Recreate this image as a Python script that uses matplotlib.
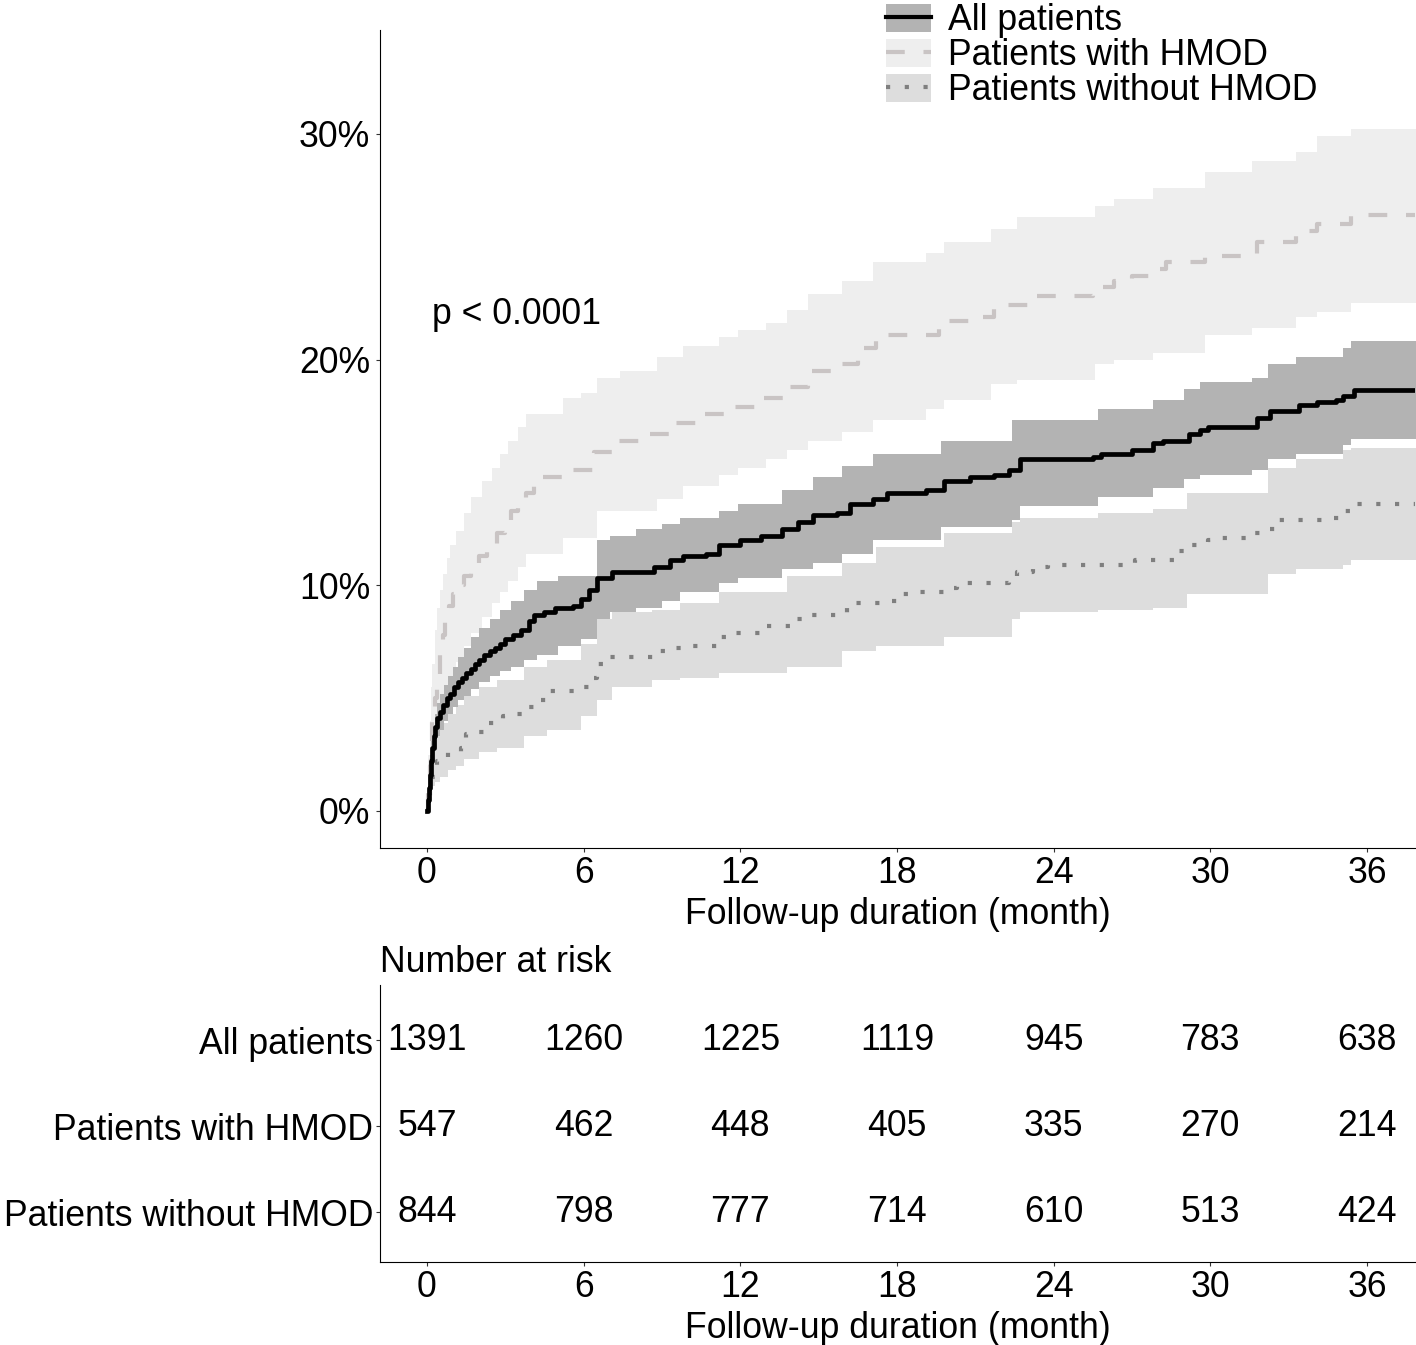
import numpy as np
import matplotlib.pyplot as plt
from matplotlib.patches import Patch
from matplotlib.lines import Line2D

plt.rcParams['font.family'] = ['Liberation Sans', 'DejaVu Sans']

# cumulative incidence (%) step curves
all_t = [0, 0.03, 0.06, 0.1, 0.15, 0.2, 0.25, 0.3, 0.4, 0.5, 0.6, 0.75, 0.9, 1.05, 1.2,
         1.35, 1.5, 1.7, 1.85, 2.0, 2.2, 2.4, 2.6, 2.8, 3.0, 3.3, 3.6, 3.9, 4.1, 4.5, 4.9,
         5.6, 5.9, 6.2, 6.5, 7.1, 8.7, 9.3, 9.8, 10.7, 11.2, 12.0, 12.8, 13.6, 14.2, 14.8,
         15.7, 16.2, 17.1, 17.6, 19.1, 19.8, 20.8, 21.7, 22.3, 22.7, 25.5, 25.8, 27.0, 27.8,
         28.2, 29.2, 29.6, 29.9, 31.8, 32.3, 33.4, 34.1, 34.8, 35.1, 35.5, 38]
all_v = [0, 0.5, 1.0, 1.6, 2.2, 2.8, 3.3, 3.7, 4.1, 4.4, 4.7, 5.0, 5.2, 5.5, 5.7,
         5.9, 6.1, 6.3, 6.5, 6.7, 6.9, 7.1, 7.2, 7.4, 7.6, 7.8, 8.0, 8.4, 8.7, 8.8, 9.0,
         9.1, 9.4, 9.8, 10.3, 10.6, 10.8, 11.1, 11.3, 11.4, 11.8, 12.0, 12.2, 12.5, 12.8, 13.1,
         13.2, 13.6, 13.8, 14.1, 14.2, 14.6, 14.8, 14.9, 15.1, 15.6, 15.7, 15.8, 16.0, 16.3,
         16.4, 16.7, 16.9, 17.0, 17.4, 17.7, 18.0, 18.1, 18.2, 18.4, 18.65, 18.65]

all_band_t = [0, 0.05, 0.1, 0.15, 0.2, 0.3, 0.4, 0.5, 0.65, 0.8, 1.0, 1.2, 1.4, 1.7, 2.0,
              2.4, 2.8, 3.2, 3.7, 4.2, 5.0, 5.9, 6.5, 7.0, 8.0, 9.0, 9.7, 11.2, 11.9, 13.6,
              14.8, 15.9, 17.1, 19.7, 22.4, 22.7, 25.7, 27.8, 29.0, 29.6, 31.6, 32.2, 33.3,
              35.1, 35.4, 38]
all_lo = [0, 0.6, 1.2, 1.7, 2.2, 2.8, 3.3, 3.6, 4.0, 4.3, 4.6, 4.9, 5.1, 5.4, 5.7,
          6.0, 6.2, 6.4, 6.7, 6.9, 7.3, 7.6, 8.5, 8.8, 9.0, 9.3, 9.7, 10.1, 10.3, 10.7,
          11.0, 11.4, 12.0, 12.6, 12.9, 13.5, 13.9, 14.3, 14.7, 14.9, 15.1, 15.6, 15.8,
          16.2, 16.5, 16.5]
all_hi = [0, 1.5, 2.5, 3.2, 3.7, 4.3, 4.8, 5.2, 5.6, 6.0, 6.4, 6.8, 7.2, 7.7, 8.1,
          8.5, 8.9, 9.3, 9.8, 10.2, 10.4, 10.4, 12.0, 12.2, 12.5, 12.7, 13.0, 13.3, 13.6, 14.2,
          14.8, 15.3, 15.8, 16.4, 17.3, 17.3, 17.8, 18.2, 18.7, 19.0, 19.2, 19.8, 20.1,
          20.5, 20.8, 20.8]

hm_t = [0, 0.05, 0.1, 0.15, 0.2, 0.3, 0.4, 0.5, 0.6, 0.7, 0.85, 1.0, 1.2, 1.4, 1.7, 2.0,
        2.3, 2.7, 3.0, 3.2, 3.5, 3.8, 4.1, 4.4, 5.6, 6.4, 7.3, 8.4, 9.3, 10.3, 11.6, 12.8,
        13.8, 14.6, 15.6, 16.5, 17.2, 19.6, 20.8, 21.7, 23.0, 25.5, 26.3, 27.0, 27.8, 28.3,
        29.8, 31.8, 33.3, 34.1, 35.4, 38]
hm_v = [0, 1.0, 2.0, 3.0, 4.0, 5.0, 6.0, 7.0, 7.8, 8.5, 9.1, 9.6, 10.0, 10.4, 10.9, 11.3,
        11.8, 12.3, 12.8, 13.3, 13.7, 14.1, 14.5, 14.8, 15.1, 15.9, 16.4, 16.7, 17.2, 17.6,
        17.9, 18.3, 18.8, 19.5, 19.8, 20.5, 21.1, 21.7, 21.9, 22.4, 22.8, 23.2, 23.5, 23.7,
        24.0, 24.3, 24.6, 25.2, 25.7, 26.0, 26.4, 26.4]

hm_band_t = [0, 0.05, 0.1, 0.15, 0.2, 0.3, 0.4, 0.5, 0.6, 0.75, 0.9, 1.1, 1.4, 1.7, 2.1,
             2.5, 2.8, 3.1, 3.5, 3.8, 5.2, 5.9, 6.5, 7.4, 8.8, 9.8, 11.2, 11.9, 13.0, 13.8,
             14.6, 15.9, 17.1, 19.1, 19.8, 21.6, 22.6, 25.6, 26.3, 27.8, 29.8, 31.6, 33.3,
             34.1, 35.4, 38]
hm_lo = [0, 0.3, 0.8, 1.5, 2.2, 3.0, 3.8, 4.4, 4.9, 5.5, 6.0, 6.6, 7.3, 7.9, 8.6,
         9.2, 9.7, 10.2, 10.8, 11.4, 12.1, 12.1, 13.3, 13.3, 13.8, 14.4, 14.9, 15.2, 15.6,
         16.0, 16.4, 16.8, 17.3, 17.8, 18.2, 18.9, 19.1, 19.8, 20.0, 20.3, 21.1, 21.4,
         21.9, 22.1, 22.5, 22.5]
hm_hi = [0, 2.5, 4.0, 5.5, 6.5, 8.0, 9.0, 9.8, 10.5, 11.2, 11.8, 12.4, 13.2, 13.9, 14.6,
         15.2, 15.8, 16.4, 17.0, 17.6, 18.3, 18.5, 19.2, 19.5, 20.1, 20.6, 21.0, 21.3, 21.6,
         22.2, 22.9, 23.5, 24.3, 24.7, 25.2, 25.8, 26.3, 26.8, 27.1, 27.6, 28.3, 28.8,
         29.2, 29.9, 30.2, 30.2]

wo_t = [0, 0.05, 0.1, 0.2, 0.3, 0.4, 0.8, 1.3, 1.5, 2.0, 2.3, 2.9, 3.4, 3.9, 4.3, 4.7, 5.9,
        6.2, 6.5, 6.9, 8.7, 9.3, 9.9, 11.1, 11.6, 12.8, 13.9, 14.5, 16.1, 17.4, 18.0, 18.5,
        19.8, 20.3, 22.3, 22.6, 23.2, 23.8, 27.1, 28.8, 29.3, 29.9, 30.4, 31.6, 32.2, 32.6,
        34.6, 35.0, 35.5, 38]
wo_v = [0, 0.6, 1.0, 1.5, 1.9, 2.2, 2.6, 2.8, 3.4, 3.5, 3.9, 4.2, 4.3, 4.6, 4.9, 5.3, 5.5,
        5.9, 6.5, 6.8, 7.1, 7.2, 7.3, 7.7, 7.9, 8.2, 8.5, 8.7, 9.2, 9.3, 9.6, 9.7,
        9.9, 10.1, 10.2, 10.6, 10.8, 10.9, 11.1, 11.5, 11.8, 12.0, 12.1, 12.3, 12.5, 12.9,
        13.0, 13.3, 13.6, 13.6]

wo_band_t = [0, 0.05, 0.1, 0.2, 0.3, 0.5, 0.8, 1.1, 1.4, 2.0, 2.7, 3.7, 4.6, 5.9, 6.5, 7.1,
             8.6, 9.7, 11.2, 13.8, 15.9, 17.2, 19.8, 22.4, 22.7, 25.7, 27.8, 29.1, 32.2,
             33.3, 35.1, 35.4, 38]
wo_lo = [0, 0.4, 0.8, 1.1, 1.3, 1.5, 1.8, 2.0, 2.3, 2.6, 2.8, 3.3, 3.6, 4.2, 4.9, 5.5,
         5.8, 5.9, 6.1, 6.4, 7.1, 7.3, 7.7, 8.5, 8.8, 8.9, 9.0, 9.6, 10.5, 10.7, 10.9,
         11.1, 11.1]
wo_hi = [0, 1.2, 2.0, 2.8, 3.4, 3.9, 4.3, 4.7, 5.1, 5.5, 5.8, 6.4, 6.7, 7.4, 8.5, 8.8,
         8.9, 9.2, 9.7, 10.4, 11.0, 11.7, 12.3, 12.8, 13.0, 13.2, 13.4, 14.1, 15.2, 15.6,
         16.0, 16.1, 16.1]

groups = ['All patients', 'Patients with HMOD', 'Patients without HMOD']
risk_times = [0, 6, 12, 18, 24, 30, 36]
risk_all = [1391, 1260, 1225, 1119, 945, 783, 638]
risk_hm = [547, 462, 448, 405, 335, 270, 214]
risk_wo = [844, 798, 777, 714, 610, 513, 424]

band_cols = ['#b3b3b3', '#eeeeee', '#dddddd']
line_cols = ['#000000', '#c9c4c4', '#7f7f7f']
styles = ['-', (0, (4.5, 4.5)), (0, (1, 3.5))]
FS = 25.7

fig = plt.figure(figsize=(14.16, 13.45), dpi=100)
ax = fig.add_axes([380 / 1416, 1 - 848 / 1345, 1035 / 1416, 818 / 1345])

ax.fill_between(hm_band_t, hm_lo, hm_hi, step='post', color=band_cols[1], lw=0)
ax.fill_between(wo_band_t, wo_lo, wo_hi, step='post', color=band_cols[2], lw=0)
ax.fill_between(all_band_t, all_lo, all_hi, step='post', color=band_cols[0], lw=0)
ax.step(hm_t, hm_v, where='post', color=line_cols[1], lw=3, ls=styles[1])
ax.step(wo_t, wo_v, where='post', color=line_cols[2], lw=3, ls=styles[2])
ax.step(all_t, all_v, where='post', color=line_cols[0], lw=3.4)

ax.set_xlim(-1.8, 37.84)
ax.set_ylim(-1.64, 34.6)
ax.set_xticks(risk_times)
ax.set_yticks([0, 10, 20, 30])
ax.set_yticklabels(['0%', '10%', '20%', '30%'])
ax.set_xlabel('Follow-up duration (month)', fontsize=FS, labelpad=4)
for s in ['top', 'right']:
    ax.spines[s].set_visible(False)
ax.tick_params(labelsize=FS, length=3, color='#333333', pad=3)
ax.tick_params(axis='y', pad=4)
ax.text(0.2, 22, 'p < 0.0001', fontsize=FS, va='center', ha='left')

handles = []
for i in range(3):
    handles.append((Patch(facecolor=band_cols[i], edgecolor='none'),
                    Line2D([], [], color=line_cols[i], lw=3, ls=styles[i])))
fig.legend(handles, groups, loc='upper left', bbox_to_anchor=(861 / 1416, 1.016),
           frameon=False, fontsize=FS, handlelength=1.25, handleheight=0.8,
           labelspacing=0.0, handletextpad=0.5, borderpad=0.2)

# number at risk table
rx = fig.add_axes([380 / 1416, 1 - 1262 / 1345, 1035 / 1416, 277 / 1345])
for row, vals in zip([3, 2, 1], [risk_all, risk_hm, risk_wo]):
    for t, n in zip(risk_times, vals):
        rx.text(t, row, str(n), fontsize=FS, ha='center', va='center')
rx.set_xlim(-1.8, 37.84)
rx.set_ylim(0.42, 3.64)
rx.set_xticks(risk_times)
rx.set_yticks([3, 2, 1])
rx.set_yticklabels(groups)
rx.set_xlabel('Follow-up duration (month)', fontsize=FS, labelpad=4)
for s in ['top', 'right']:
    rx.spines[s].set_visible(False)
rx.tick_params(labelsize=FS, length=3, color='#333333', pad=3)
rx.tick_params(axis='y', pad=2)
rx.set_title('Number at risk', fontsize=FS, loc='left', pad=9)

fig.savefig('out.png', dpi=100)
